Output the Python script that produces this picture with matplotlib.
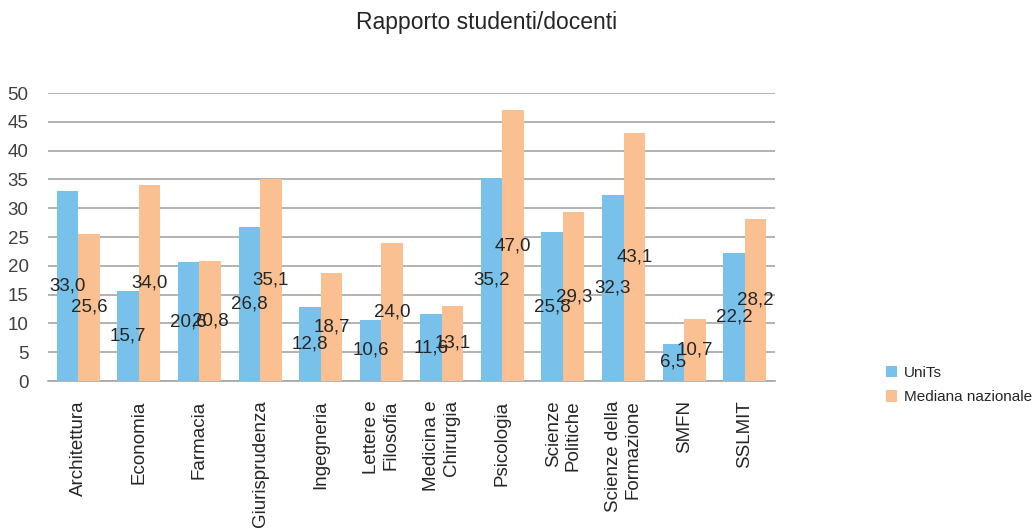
import matplotlib
matplotlib.use("Agg")
import matplotlib.pyplot as plt
import numpy as np

plt.rcParams['font.family'] = ['Liberation Sans', 'DejaVu Sans']

categories = ["Architettura", "Economia", "Farmacia", "Giurisprudenza", "Ingegneria",
              "Lettere e\nFilosofia", "Medicina e\nChirurgia", "Psicologia",
              "Scienze\nPolitiche", "Scienze della\nFormazione", "SMFN", "SSLMIT"]
units = [33.0, 15.7, 20.6, 26.8, 12.8, 10.6, 11.6, 35.2, 25.8, 32.3, 6.5, 22.2]
mediana = [25.6, 34.0, 20.8, 35.1, 18.7, 24.0, 13.1, 47.0, 29.3, 43.1, 10.7, 28.2]
series_names = ["UniTs", "Mediana nazionale"]
yticks = [0, 5, 10, 15, 20, 25, 30, 35, 40, 45, 50]

blue = "#77C1EA"
orange = "#FAC091"
txt = "#262626"

fig = plt.figure(figsize=(10.35, 5.31), dpi=100)
ax = fig.add_axes([48/1035, 1-381/531, (775-48)/1035, (381-93)/531])

x = np.arange(len(categories))
w = 0.355
b1 = ax.bar(x - w/2, units, w, color=blue, label=series_names[0], zorder=3)
b2 = ax.bar(x + w/2, mediana, w, color=orange, label=series_names[1], zorder=3)

fmt = lambda v: f"{v:.1f}".replace('.', ',')
ax.bar_label(b1, labels=[fmt(v) for v in units], label_type='center', fontsize=13.5, color=txt, zorder=5)
ax.bar_label(b2, labels=[fmt(v) for v in mediana], label_type='center', fontsize=13.5, color=txt, zorder=5)

ax.set_xlim(-0.5, len(categories) - 0.5)
ax.set_ylim(0, 50)
ax.set_yticks(yticks)
ax.set_yticklabels([str(t) for t in yticks], fontsize=13.5, color="#404040")
ax.yaxis.grid(True, color="#a6a6a6", linewidth=1.2, zorder=0)
ax.set_axisbelow(True)
for s in ["top", "right", "left"]:
    ax.spines[s].set_visible(False)
ax.spines["bottom"].set_color("#a6a6a6")
ax.spines["bottom"].set_linewidth(1.2)
ax.tick_params(axis='both', length=0)
ax.tick_params(axis='y', pad=14)
ax.set_xticks(x)
ax.set_xticklabels(categories, rotation=90, fontsize=13.5, color=txt,
                   va='top', ha='center', multialignment='right')
ax.tick_params(axis='x', pad=14)

fig.text(487/1035, 1-22/531, "Rapporto studenti/docenti", ha='center', va='center',
         fontsize=16.5, color=txt)

fig.legend(handles=[b1, b2], labels=series_names, loc='center left',
           bbox_to_anchor=(886/1035, 1-385/531), frameon=False, fontsize=11,
           handlelength=0.75, handleheight=0.75, handletextpad=0.4,
           labelspacing=0.7, borderpad=0, borderaxespad=0, labelcolor=txt)

fig.savefig("out.png", dpi=100)
